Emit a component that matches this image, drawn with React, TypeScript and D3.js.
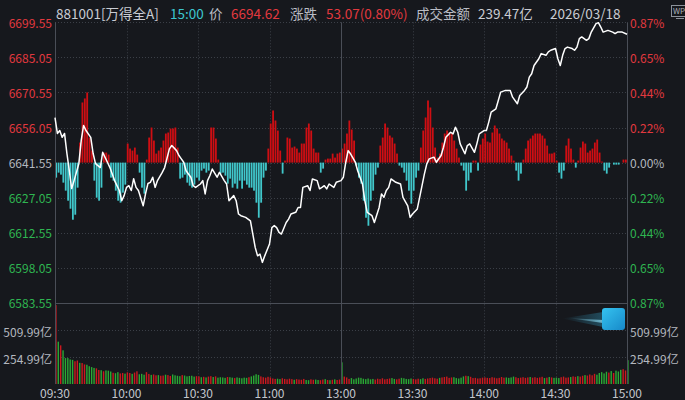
import { useEffect } from "react";
import * as d3 from "d3";

// previous close, used as the 0.00% line
const prevClose = 6641.55;

const priceTicks = [6699.55, 6685.05, 6670.55, 6656.05, 6641.55, 6627.05, 6612.55, 6598.05, 6583.55];
const pctLabels = ["0.87%", "0.65%", "0.44%", "0.22%", "0.00%", "0.22%", "0.44%", "0.65%", "0.87%"];
const volTicks = [509.99, 254.99];
const volMax = 764.99;
const timeLabels = ["09:30", "10:00", "10:30", "11:00", "13:00", "13:30", "14:00", "14:30", "15:00"];

// minute index (0 = 09:30, 120 = 13:00, 240 = 15:00) -> index level
const priceMinutes = [
  0, 1, 2, 3, 4, 5, 6, 7, 8, 10, 11, 12, 13, 15, 16, 17, 19, 20, 22, 23, 25, 27, 28, 29, 30, 31, 32, 33, 34, 35,
  37, 38, 39, 40, 41, 42, 43, 45, 46, 48, 49, 51, 52, 53, 54, 55, 57, 58, 59, 61, 62, 63, 64, 65, 66, 68, 69, 71,
  72, 73, 75, 76, 77, 78, 80, 82, 83, 84, 85, 86, 87, 88, 90, 91, 92, 93, 94, 95, 97, 98, 99, 101, 102, 103, 104,
  106, 107, 108, 110, 111, 112, 113, 114, 115, 117, 118, 120, 121, 122, 123, 124, 126, 127, 129, 130, 131, 133,
  134, 136, 137, 138, 139, 140, 141, 142, 143, 145, 146, 148, 149, 150, 152, 153, 154, 155, 156, 157, 159, 160,
  162, 163, 164, 166, 167, 168, 169, 170, 172, 173, 174, 176, 177, 178, 180, 181, 182, 183, 185, 186, 187, 189,
  191, 192, 194, 195, 197, 198, 199, 200, 201, 203, 204, 206, 207, 208, 210, 211, 212, 213, 214, 215, 217, 218,
  219, 220, 221, 223, 224, 225, 227, 228, 229, 230, 232, 234, 235, 236, 238, 240,
];
const priceValues = [
  6660.1, 6653.6, 6654.8, 6652.0, 6653.6, 6645.3, 6638.2, 6630.8, 6634.1, 6641.1, 6650.7, 6656.9, 6654.8, 6652.0,
  6645.3, 6641.1, 6639.5, 6645.8, 6641.7, 6639.6, 6634.1, 6630.0, 6625.8, 6627.9, 6631.3, 6632.0, 6630.0, 6634.9,
  6631.3, 6630.0, 6623.7, 6628.7, 6632.9, 6633.4, 6635.5, 6631.3, 6634.1, 6637.5, 6639.5, 6647.2, 6648.6, 6646.5,
  6644.5, 6643.1, 6641.7, 6638.2, 6635.5, 6632.0, 6631.3, 6632.7, 6634.1, 6628.6, 6634.1, 6636.2, 6638.9, 6635.5,
  6637.5, 6634.1, 6632.7, 6625.8, 6627.9, 6625.8, 6620.3, 6619.6, 6618.9, 6617.5, 6612.0, 6606.5, 6603.0, 6603.7,
  6600.3, 6603.0, 6607.9, 6614.7, 6615.5, 6614.7, 6612.7, 6612.0, 6616.8, 6618.2, 6620.3, 6621.0, 6623.0, 6623.0,
  6631.3, 6632.0, 6630.0, 6634.8, 6634.1, 6630.7, 6631.3, 6632.0, 6630.7, 6632.7, 6631.3, 6633.4, 6634.1, 6635.5,
  6641.7, 6646.5, 6645.2, 6641.7, 6638.2, 6632.7, 6625.8, 6621.0, 6619.6, 6616.8, 6623.0, 6628.6, 6627.2, 6630.0,
  6631.3, 6634.8, 6634.1, 6633.4, 6632.7, 6627.2, 6623.7, 6618.9, 6620.3, 6622.4, 6627.2, 6632.0, 6636.9, 6641.0,
  6643.1, 6643.8, 6641.7, 6644.5, 6647.9, 6652.0, 6654.1, 6653.4, 6656.2, 6654.1, 6649.3, 6645.2, 6648.6, 6649.3,
  6645.8, 6649.3, 6653.4, 6654.8, 6654.8, 6658.3, 6662.4, 6663.8, 6667.2, 6670.7, 6671.4, 6671.4, 6668.6, 6665.9,
  6669.3, 6671.4, 6672.8, 6676.9, 6678.3, 6681.7, 6684.5, 6686.6, 6685.9, 6687.3, 6688.0, 6688.7, 6684.5, 6681.7,
  6685.9, 6688.7, 6689.3, 6688.7, 6688.0, 6689.3, 6692.8, 6693.5, 6692.1, 6692.8, 6695.5, 6699.0, 6699.4, 6697.6,
  6695.5, 6696.2, 6695.5, 6694.9, 6695.5, 6695.5, 6694.62,
];

// red / cyan strength bars, one per minute (positive = red)
const signalValues = [
  -15, -10, -12, -20, -28, -38, -46, -57, -52, -25,
  20, 60, 64, 70, 25, 12, -18, -35, -38, -25,
  10, 10, 8, -15, -18, -28, -38, -40, -30, -22,
  19, 14, 12, 15, 8, -10, -25, -31, 3, 25,
  35, 22, 9, 12, 15, 22, 29, 30, 34, 34,
  35, 15, -16, -15, -12, -20, -23, -25, -22, -15,
  -18, -8, -6, -10, -8, 35, 35, 24, 3, -11,
  -10, -13, -21, -16, -25, -21, -26, -18, -26, -18,
  -22, -25, -25, -28, -40, -55, -40, -15, -8, 14,
  39, 52, 42, 32, 12, -11, 2, 25, 24, 15,
  16, 14, 10, 19, 19, 35, 39, 32, 14, 10,
  10, -10, -6, 3, 4, 4, 9, 5, 9, 10,
  14, 19, 29, 42, 33, 22, -3, -15, -21, -38,
  -55, -63, -38, -28, -12, -5, 17, 25, 39, 35,
  27, 25, 19, 9, -3, -5, -10, -18, -28, -41,
  -28, -15, -8, 15, 32, 45, 62, 55, 35, 15,
  5, 9, 20, 29, 32, 30, 29, 22, 14, 5,
  -3, -8, -28, -18, -10, 2, 2, -8, 18, 24,
  29, 21, 20, 30, 37, 34, 29, 24, 22, 20,
  14, 7, 2, -8, -18, -11, 3, 14, 22, 24,
  27, 29, 29, 29, 27, 24, 17, 9, 9, 10,
  2, -10, -16, -8, 17, 24, 14, 3, -5, 2,
  15, 21, 19, 10, 12, 14, 20, 23, 10, 1,
  -8, -11, -5, 0, -2, -2, -2, 0, 3, 3,
];

// turnover per minute (亿)
const volumeValues = [
  745, 400, 365, 318, 245, 245, 232, 228, 215, 222,
  200, 198, 185, 182, 168, 160, 152, 148, 132, 130,
  120, 128, 126, 118, 106, 102, 112, 100, 104, 98,
  110, 104, 96, 108, 120, 92, 96, 88, 112, 95,
  86, 90, 82, 84, 78, 80, 88, 84, 76, 90,
  82, 78, 74, 84, 80, 72, 76, 78, 70, 74,
  72, 64, 68, 62, 70, 74, 66, 72, 60, 64,
  62, 58, 66, 64, 60, 56, 62, 58, 54, 60,
  58, 64, 72, 80, 92, 86, 72, 64, 60, 68,
  62, 52, 48, 50, 46, 54, 48, 44, 50, 46,
  40, 46, 42, 40, 48, 38, 36, 44, 40, 42,
  38, 36, 42, 46, 38, 36, 40, 44, 38, 42,
  205, 70, 62, 48, 56, 44, 52, 60, 58, 50,
  46, 52, 44, 48, 42, 50, 46, 54, 44, 48,
  52, 56, 48, 44, 50, 58, 54, 48, 46, 52,
  48, 44, 50, 46, 54, 48, 52, 56, 60, 54,
  50, 58, 62, 66, 70, 58, 62, 64, 56, 52,
  60, 72, 78, 74, 68, 56, 58, 52, 54, 60,
  62, 58, 56, 64, 60, 54, 58, 66, 60, 62,
  58, 62, 70, 64, 56, 60, 64, 58, 62, 66,
  60, 64, 58, 62, 68, 56, 60, 66, 62, 58,
  60, 56, 64, 70, 60, 62, 66, 72, 68, 74,
  70, 78, 84, 80, 90, 82, 96, 88, 104, 112,
  100, 116, 108, 122, 104, 126, 118, 134, 140, 128,
  225,
];
// R = up minute, G = down minute
const volumeDir = (
  "RGRGGGGGRR" + "GRRGGGGRRG" + "RGGGRGGRRG" + "RRGRRGGGRR" + "GRRGRRGRRG" + "GGGRGGGGGR" +
  "RGRGRRGRGG" + "GGRGGRGGGG" + "GRGGGGRRRR" + "RRRGGRRRRR" + "GRRRRGGRRG" + "GRRGRGRGRR" +
  "GRRRGGGGGG" + "GGGGRRRRRR" + "RGGRRGGGGG" + "RRRGGRRRRR" + "RGRRRRRGGG" + "GGRGRRRRRR" +
  "RRRRRRRRRG" + "GGGRRRRRRG" + "RRRRRGRGRG" + "GGRRRRGRRG" + "RRGRRRRGGG" + "GGRGRGGGRR" + "G"
).split("");

const W = 685;
const H = 400;
const BG = "#16181d";
const GRID = "#3b3f47";
const BORDER = "#4a4e57";
const UP = "#e2393f";
const DOWN = "#2fb551";
const NEUTRAL = "#b3b7bf";
const FONT = "'Noto Sans CJK SC', 'Noto Sans', sans-serif";

export default function App() {
  useEffect(() => {
    document.body.style.margin = "0";
    document.body.style.background = BG;
  }, []);

  const left = 55;
  const right = 627;
  const top = 22.3;
  const priceBottom = 302.9;
  const volBottom = 384;

  const x = d3.scaleLinear().domain([0, 240]).range([left, right]);
  const yPrice = d3.scaleLinear().domain([6583.55, 6699.55]).range([priceBottom, top]);
  const ySig = d3.scaleLinear().domain([-140, 140]).range([priceBottom, top]);
  const yVol = d3.scaleLinear().domain([0, volMax]).range([volBottom, 303]);

  const line = d3
    .line<number>()
    .x((_, i) => x(priceMinutes[i]))
    .y((d) => yPrice(d))
    .curve(d3.curveLinear);

  const levelColor = (v: number) => (v > prevClose ? UP : v < prevClose ? DOWN : NEUTRAL);

  return (
    <div style={{ position: "absolute", left: 0, top: 0, width: W, height: H, background: BG }}>
      <svg width={W} height={H} style={{ display: "block", fontFamily: FONT }}>
        <defs>
          <linearGradient id="boxGrad" x1="0" y1="0" x2="1" y2="1">
            <stop offset="0" stopColor="#35c3f0" />
            <stop offset="1" stopColor="#1789c9" />
          </linearGradient>
          <linearGradient id="tailGrad" x1="0" y1="0" x2="1" y2="0">
            <stop offset="0" stopColor="#3cc4f2" stopOpacity={0} />
            <stop offset="1" stopColor="#3cc4f2" stopOpacity={0.3} />
          </linearGradient>
          <linearGradient id="streakGrad" x1="0" y1="0" x2="1" y2="0">
            <stop offset="0" stopColor="#8fe4ff" stopOpacity={0} />
            <stop offset="1" stopColor="#8fe4ff" stopOpacity={0.7} />
          </linearGradient>
        </defs>
        <rect width={W} height={H} fill={BG} />

        {/* header */}
        <g fontSize={13.5} dominantBaseline="central">
          <text x={56} y={12.5} fill="#c9ccd3">881001[万得全A]</text>
          <text x={170} y={12.5} fill="#3cc6cf">15:00</text>
          <text x={209} y={12.5} fill="#b9bcc4">价</text>
          <text x={231} y={12.5} fill={UP}>6694.62</text>
          <text x={290} y={12.5} fill="#b9bcc4">涨跌</text>
          <text x={326} y={12.5} fill={UP}>53.07(0.80%)</text>
          <text x={416} y={12.5} fill="#b9bcc4">成交金额</text>
          <text x={478} y={12.5} fill="#c9ccd3">239.47亿</text>
          <text x={550} y={12.5} fill="#c9ccd3">2026/03/18</text>
        </g>
        <g>
          <rect x={671.5} y={5.5} width={17} height={11} fill="none" stroke="#8c929b" />
          <text x={673} y={14} fontSize={8} fill="#aab0b8">WP</text>
          <line x1={676} x2={684} y1={18.5} y2={18.5} stroke="#8c929b" />
        </g>

        {/* grid */}
        <g stroke={GRID} strokeDasharray="1,2" strokeWidth={1}>
          {priceTicks.slice(0, -1).map((t) => (
            <line key={t} x1={left} x2={right} y1={Math.round(yPrice(t)) + 0.5} y2={Math.round(yPrice(t)) + 0.5} />
          ))}
          {volTicks.map((t) => (
            <line key={t} x1={left} x2={right} y1={Math.round(yVol(t)) + 0.5} y2={Math.round(yVol(t)) + 0.5} />
          ))}
          {[30, 60, 90, 150, 180, 210].map((m) => (
            <line key={m} x1={Math.round(x(m)) + 0.5} x2={Math.round(x(m)) + 0.5} y1={top} y2={volBottom} />
          ))}
        </g>

        {/* strength bars */}
        {signalValues.map((v, i) => {
          const y0 = ySig(0);
          const y1 = ySig(v);
          return (
            <rect
              key={"s" + i}
              x={x(i) + 0.3}
              y={Math.min(y0, y1)}
              width={1.8}
              height={Math.abs(y1 - y0)}
              fill={v >= 0 ? "#cf0e13" : "#40c7cb"}
            />
          );
        })}

        {/* volume bars */}
        {volumeValues.map((v, i) => (
          <rect
            key={"v" + i}
            x={x(i) + 0.2}
            y={yVol(v)}
            width={1.4}
            height={volBottom - yVol(v)}
            fill={volumeDir[i] === "R" ? "#cc181e" : "#2aa834"}
          />
        ))}

        {/* frame */}
        <g stroke={BORDER} strokeWidth={1}>
          <line x1={left + 0.5} x2={left + 0.5} y1={top} y2={volBottom} />
          <line x1={right + 0.5} x2={right + 0.5} y1={top} y2={volBottom} />
          <line x1={Math.round(x(120)) + 0.5} x2={Math.round(x(120)) + 0.5} y1={top} y2={volBottom} />
          <line x1={left} x2={right} y1={303.5} y2={303.5} />
        </g>

        {/* price line */}
        <path d={line(priceValues) ?? ""} fill="none" stroke="#ffffff" strokeWidth={1.5} strokeLinejoin="round" />

        {/* axis labels */}
        <g fontSize={12} dominantBaseline="central">
          {priceTicks.map((t) => (
            <text key={"l" + t} x={52} y={yPrice(t)} textAnchor="end" fill={levelColor(t)}>
              {t.toFixed(2)}
            </text>
          ))}
          {priceTicks.map((t, i) => (
            <text key={"r" + t} x={630} y={yPrice(t)} fill={levelColor(t)}>
              {pctLabels[i]}
            </text>
          ))}
          {volTicks.map((t) => (
            <text key={"vl" + t} x={52} y={yVol(t) + 1} textAnchor="end" fill={NEUTRAL}>
              {t.toFixed(2)}亿
            </text>
          ))}
          {volTicks.map((t) => (
            <text key={"vr" + t} x={630} y={yVol(t) + 1} fill={NEUTRAL}>
              {t.toFixed(2)}亿
            </text>
          ))}
          {timeLabels.map((t, i) => (
            <text key={t} x={x(i * 30)} y={392} textAnchor="middle" fill="#c3c6cd">
              {t}
            </text>
          ))}
        </g>

        {/* floating badge */}
        <polygon points="562,318.5 603,312 603,327" fill="url(#tailGrad)" />
        <polygon points="568,318 603,320 603,323" fill="url(#streakGrad)" />
        <rect x={602} y={308} width={23} height={22} rx={3} fill="url(#boxGrad)" />
      </svg>
    </div>
  );
}
